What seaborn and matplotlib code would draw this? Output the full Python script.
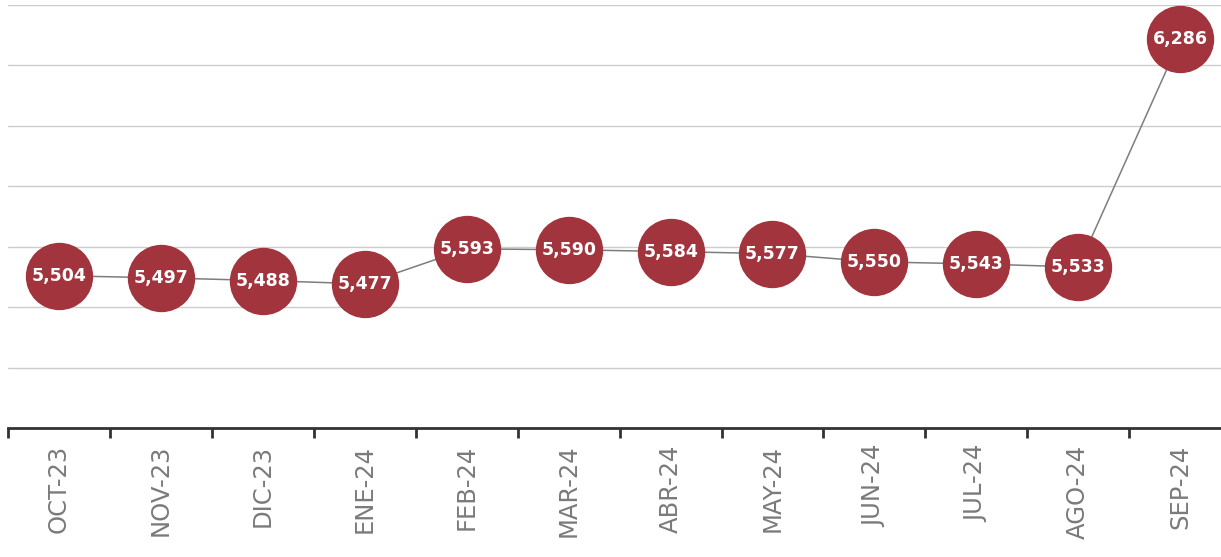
import numpy as np
import pandas as pd
import matplotlib
matplotlib.use("Agg")
import matplotlib.pyplot as plt
import seaborn as sns

months = ["OCT-23", "NOV-23", "DIC-23", "ENE-24", "FEB-24", "MAR-24",
          "ABR-24", "MAY-24", "JUN-24", "JUL-24", "AGO-24", "SEP-24"]
values = [5504, 5497, 5488, 5477, 5593, 5590, 5584, 5577, 5550, 5543, 5533, 6286]

sns.set_theme(style="white")
plt.rcParams["font.family"] = ["DejaVu Sans"]

df = pd.DataFrame({"pos": np.arange(len(months)), "value": values, "month": months})

fig = plt.figure(figsize=(12.21, 5.57), dpi=100)
ax = fig.add_axes([8 / 1221, 1 - 428 / 557, 1 - 8 / 1221, (428 - 5) / 557])

sns.lineplot(data=df, x="pos", y="value", ax=ax, color="#7d7d7d", linewidth=1.1,
             marker="o", markersize=48.5, markerfacecolor="#a1343d",
             markeredgewidth=0, zorder=3)

for x, v in zip(df["pos"], df["value"]):
    ax.text(x, v, f"{v:,}", ha="center", va="center", color="white",
            fontsize=12.5, fontweight="bold", zorder=4)

ax.set_ylim(5000, 6400)
ax.set_xlim(-0.5, 11.4)
ax.set_yticks(np.arange(5200, 6401, 200))
ax.yaxis.grid(True, color="#cccccc", linewidth=1)
ax.set_yticklabels([])
ax.tick_params(axis="y", length=0)

# boundary ticks between categories, labels at centers
ax.set_xticks(np.arange(-0.5, 11, 1.0))
ax.set_xticklabels([])
ax.set_xticks(df["pos"], minor=True)
ax.set_xticklabels(months, minor=True, rotation=90, color="#7a7a7a", fontsize=17.5)
ax.tick_params(axis="x", which="major", direction="out", length=7, width=2,
               color="#333333", bottom=True)
ax.tick_params(axis="x", which="minor", length=0, pad=12)

for s in ["top", "right", "left"]:
    ax.spines[s].set_visible(False)
ax.spines["bottom"].set_color("#333333")
ax.spines["bottom"].set_linewidth(2)

ax.set_xlabel("")
ax.set_ylabel("")

fig.savefig("out.png", dpi=100)
